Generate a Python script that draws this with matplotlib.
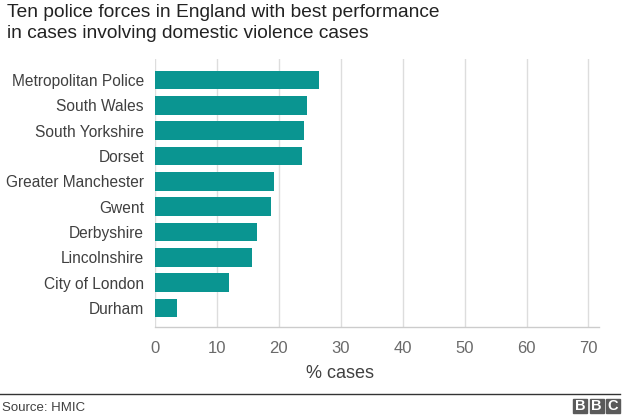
import matplotlib
matplotlib.use('Agg')
import matplotlib.pyplot as plt
from matplotlib.patches import Rectangle

plt.rcParams['font.family'] = ['Liberation Sans', 'DejaVu Sans']

forces = ['Metropolitan Police', 'South Wales', 'South Yorkshire', 'Dorset',
          'Greater Manchester', 'Gwent', 'Derbyshire', 'Lincolnshire',
          'City of London', 'Durham']
pct_cases = [26.5, 24.6, 24.1, 23.7, 19.2, 18.7, 16.4, 15.6, 12.0, 3.6]
x_ticks = [0, 10, 20, 30, 40, 50, 60, 70]

W, H = 624, 419
fig = plt.figure(figsize=(W / 100, H / 100), dpi=100)

# axes placed in pixel terms
left, right, top, bottom = 155, 599, 59, 327
ax = fig.add_axes([left / W, 1 - bottom / H, (right - left) / W, (bottom - top) / H])

ypos = list(range(len(forces)))
ax.barh(ypos, pct_cases, height=0.73, color='#0a9591', zorder=3)
ax.set_ylim(9.75, -0.83)
ax.set_xlim(0, 71.7)

ax.set_yticks(ypos)
ax.set_yticklabels(forces, fontsize=11.2, color='#404040')
ax.set_xticks(x_ticks)
ax.set_xticklabels([str(t) for t in x_ticks], fontsize=12, color='#6a6a6a')
ax.tick_params(axis='y', length=0, pad=8)
ax.tick_params(axis='x', which='major', length=0, pad=10)
ax.set_xticks([0], minor=True)
ax.tick_params(axis='x', which='minor', length=10, color='#cccccc', width=1)

ax.grid(axis='x', color='#dddddd', linewidth=1, zorder=0)
for s in ['top', 'right', 'left']:
    ax.spines[s].set_visible(False)
ax.spines['bottom'].set_color('#cccccc')
ax.spines['bottom'].set_linewidth(1)

fig.text(340 / W, 1 - 373 / H, '% cases', ha='center', va='center',
         fontsize=13, color='#404040')

fig.text(7 / W, 1 - 4 / H,
         'Ten police forces in England with best performance\n'
         'in cases involving domestic violence cases',
         ha='left', va='top', fontsize=13.8, color='#222222', linespacing=1.3)

# footer
fig.add_artist(plt.Line2D([0, 620 / W], [1 - 394 / H] * 2, color='#333333', linewidth=1))
fig.text(2 / W, 1 - 408 / H, 'Source: HMIC', ha='left', va='center',
         fontsize=9.5, color='#404040')
for i, letter in enumerate('BBC'):
    x0 = 573 + i * 16.5
    fig.add_artist(Rectangle((x0 / W, 1 - 413 / H), 14 / W, 14 / H,
                             transform=fig.transFigure, color='#5a5a5a'))
    fig.text((x0 + 7) / W, 1 - 406 / H, letter, ha='center', va='center',
             fontsize=10.5, fontweight='bold', color='white')

fig.savefig('out.png', dpi=100)
